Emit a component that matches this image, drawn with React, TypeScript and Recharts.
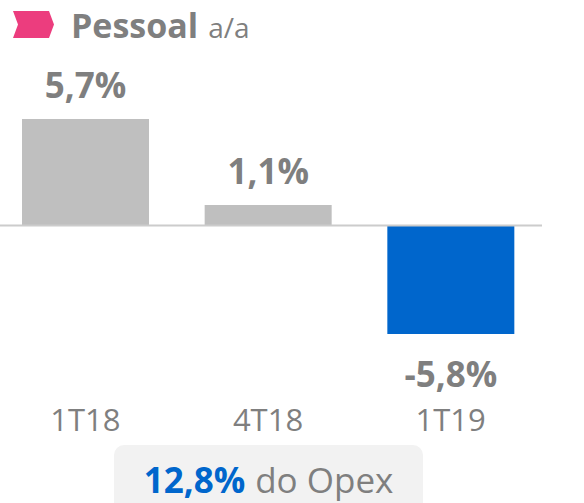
import React from "react";
import { BarChart, Bar, XAxis, YAxis, Cell, LabelList, ReferenceLine } from "recharts";

const categories = ["1T18", "4T18", "1T19"];
const values = [5.7, 1.1, -5.8];
const valueLabels = ["5,7%", "1,1%", "-5,8%"];
const barColors = ["#BFBFBF", "#BFBFBF", "#0066CC"];
const yDomain = [-8, 6];

const data = categories.map((c, i) => ({ name: c, value: values[i], label: valueLabels[i], color: barColors[i] }));

const FONT = "'Open Sans', 'Noto Sans', sans-serif";
const GRAY = "#7F7F7F";

const ValueLabel = (props: any) => {
  const { x, y, width, height, index } = props;
  const top = Math.min(y, y + height);
  const bottom = Math.max(y, y + height);
  const v = values[index];
  const ty = v >= 0 ? top - 21 : bottom + 53;
  return (
    <text x={x + width / 2} y={ty} textAnchor="middle" fill={GRAY} fontFamily={FONT} fontWeight={700} fontSize={35}>
      {valueLabels[index]}
    </text>
  );
};

const CatTick = (props: any) => {
  const { x, y, payload } = props;
  return (
    <text x={x} y={y + 56} textAnchor="middle" fill={GRAY} fontFamily={FONT} fontSize={31}>
      {payload.value}
    </text>
  );
};

export default function App() {
  return (
    <div style={{ position: "absolute", left: 0, top: 0, width: 584, height: 503, overflow: "hidden", background: "#fff" }}>
      <svg width={584} height={60} style={{ position: "absolute", left: 0, top: 0 }}>
        <polygon points="13,11 49,11 54,24.5 49,38 13,38 18,24.5" fill="#EC3D7E" />
        <text x={71} y={38} fill={GRAY} fontFamily={FONT} fontSize={34} fontWeight={700}>
          Pessoal
          <tspan dx={10} fontWeight={400} fontSize={28}>a/a</tspan>
        </text>
      </svg>
      <div style={{ position: "absolute", left: -6, top: 0 }}>
        <BarChart width={548} height={440} data={data} margin={{ top: 113.4, right: 0, bottom: 0, left: 0 }}>
          <XAxis dataKey="name" axisLine={false} tickLine={false} tickSize={0} tickMargin={0} height={65} tick={<CatTick />} interval={0} />
          <YAxis hide domain={yDomain} type="number" allowDataOverflow />
          <ReferenceLine y={0} stroke="#CCCCCC" strokeWidth={2} />
          <Bar dataKey="value" barSize={127} isAnimationActive={false}>
            {data.map((d, i) => (
              <Cell key={i} fill={d.color} />
            ))}
            <LabelList dataKey="value" content={<ValueLabel />} />
          </Bar>
        </BarChart>
      </div>
      <div style={{ position: "absolute", left: 114, top: 445, width: 309, height: 80, background: "#F2F2F2", borderRadius: 10 }} />
      <svg width={584} height={503} style={{ position: "absolute", left: 0, top: 0, pointerEvents: "none" }}>
        <text x={268.5} y={493} textAnchor="middle" fontFamily={FONT} fontSize={35}>
          <tspan fill="#0066CC" fontWeight={700}>12,8%</tspan>
          <tspan fill={GRAY} dx={10}>do Opex</tspan>
        </text>
      </svg>
    </div>
  );
}
